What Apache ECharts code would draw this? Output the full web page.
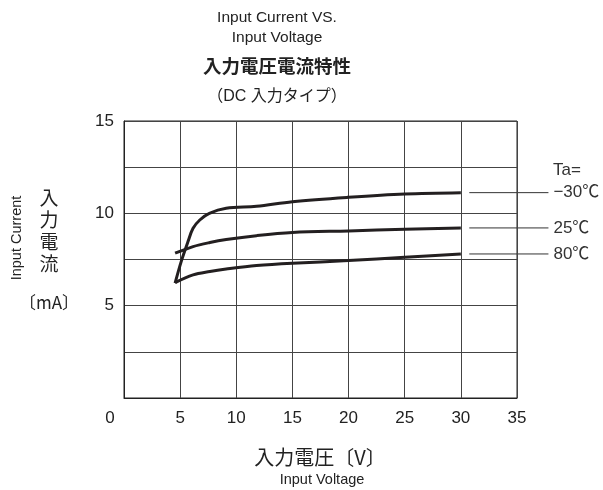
<!DOCTYPE html>
<html>
<head>
<meta charset="utf-8">
<script src="https://cdn.jsdelivr.net/npm/echarts@6/dist/echarts.min.js"></script>
<style>html,body{margin:0;padding:0;background:#fff}#c{width:603px;height:490px}</style>
</head>
<body>
<div id="c"></div>
<script>
var xTicks = [0, 5, 10, 15, 20, 25, 30, 35];
var yTicks = [5, 10, 15];
var seriesNames = ['−30℃', '25℃', '80℃'];
var xM30 = [4.55, 5.1, 5.7, 6.15, 6.75, 7.6, 9.1, 11.8, 15, 20, 25, 30];
var yM30 = [6.22, 7.4, 8.47, 9.19, 9.64, 10.0, 10.27, 10.38, 10.63, 10.87, 11.05, 11.12];
var x25 = [4.55, 6.15, 7.65, 9.1, 11.8, 15, 20, 25, 30];
var y25 = [7.84, 8.2, 8.42, 8.58, 8.79, 8.96, 9.05, 9.14, 9.21];
var x80 = [4.55, 6.15, 7.65, 9.1, 11.8, 15, 20, 25, 30];
var y80 = [6.25, 6.67, 6.85, 6.98, 7.17, 7.3, 7.44, 7.62, 7.8];

function pairs(xs, ys) { return xs.map(function (x, i) { return [x, ys[i]]; }); }

var FONT = '"Liberation Sans", "Noto Sans CJK JP", sans-serif';
var JP = '"Noto Sans CJK JP", "Liberation Sans", sans-serif';
var chart = echarts.init(document.getElementById('c'), null, {renderer: 'canvas'});

var lineStyle = {color: '#231f20', width: 3};
function mk(name, xs, ys) {
  return {
    name: name, type: 'line', data: pairs(xs, ys), smooth: 0.35,
    symbol: 'none', lineStyle: lineStyle, animation: false, clip: false
  };
}

chart.setOption({
  animation: false,
  grid: {left: 124, right: 86, top: 121, bottom: 92, show: true, borderColor: '#222', borderWidth: 1},
  xAxis: {
    type: 'value', min: 0, max: 35, interval: 5,
    axisLine: {show: true, lineStyle: {color: '#222', width: 1}},
    axisTick: {show: false},
    splitLine: {show: true, lineStyle: {color: '#444', width: 1}},
    axisLabel: {
      color: '#222', fontSize: 17, fontFamily: FONT, margin: 12,
      formatter: function (v) { return v === 0 ? '{z|0}' : (xTicks.indexOf(v) >= 0 ? String(v) : ''); },
      rich: {z: {fontSize: 17, fontFamily: FONT, color: '#222', padding: [0, 28, 0, 0]}}
    }
  },
  yAxis: {
    type: 'value', min: 0, max: 15, interval: 2.5,
    axisLine: {show: true, lineStyle: {color: '#222', width: 1}},
    axisTick: {show: false},
    splitLine: {show: true, lineStyle: {color: '#444', width: 1}},
    axisLabel: {
      color: '#222', fontSize: 17, fontFamily: FONT, margin: 10,
      formatter: function (v) { return yTicks.indexOf(v) >= 0 ? String(v) : ''; }
    }
  },
  series: [mk(seriesNames[0], xM30, yM30), mk(seriesNames[1], x25, y25), mk(seriesNames[2], x80, y80)],
  graphic: [
    {type: 'text', x: 277, y: 18, style: {text: 'Input Current VS.', fontSize: 15.5, fontFamily: FONT, fill: '#222', align: 'center', verticalAlign: 'middle'}},
    {type: 'text', x: 277, y: 38, style: {text: 'Input Voltage', fontSize: 15.5, fontFamily: FONT, fill: '#222', align: 'center', verticalAlign: 'middle'}},
    {type: 'text', x: 277, y: 66, style: {text: '入力電圧電流特性', fontSize: 18.5, fontWeight: 'bold', fontFamily: JP, fill: '#222', align: 'center', verticalAlign: 'middle'}},
    {type: 'text', x: 277, y: 97, style: {text: '（DC 入力タイプ）', fontSize: 16, fontFamily: FONT, fill: '#222', align: 'center', verticalAlign: 'middle'}},
    {type: 'text', x: 49, y: 187, style: {text: '入\n力\n電\n流', fontSize: 19, lineHeight: 22, fontFamily: JP, fill: '#222', align: 'center', verticalAlign: 'top'}},
    {type: 'text', x: 49, y: 303, style: {text: '〔mA〕', fontSize: 17, fontFamily: JP, fill: '#222', align: 'center', verticalAlign: 'middle'}},
    {type: 'text', x: 17, y: 238, rotation: Math.PI / 2, style: {text: 'Input Current', fontSize: 14.5, fontFamily: FONT, fill: '#222', align: 'center', verticalAlign: 'middle'}},
    {type: 'text', x: 320, y: 457, style: {text: '入力電圧〔V〕', fontSize: 20, fontFamily: JP, fill: '#222', align: 'center', verticalAlign: 'middle'}},
    {type: 'text', x: 322, y: 480, style: {text: 'Input Voltage', fontSize: 14.5, fontFamily: FONT, fill: '#222', align: 'center', verticalAlign: 'middle'}},
    {type: 'text', x: 553, y: 170, style: {text: 'Ta=', fontSize: 17, fontFamily: FONT, fill: '#333', align: 'left', verticalAlign: 'middle'}}
  ]
});

// leader lines & labels positioned from the data's last values
var ends = [yM30[yM30.length - 1], y25[y25.length - 1], y80[y80.length - 1]];
var extra = [];
ends.forEach(function (v, i) {
  var p1 = chart.convertToPixel({gridIndex: 0}, [30.75, v]);
  var p2 = chart.convertToPixel({gridIndex: 0}, [37.8, v]);
  extra.push({type: 'line', shape: {x1: p1[0], y1: p1[1], x2: p2[0], y2: p2[1]}, style: {stroke: '#333', lineWidth: 1}});
  extra.push({type: 'text', x: p2[0] + 5, y: p2[1], style: {text: seriesNames[i], fontSize: 17, fontFamily: FONT, fill: '#333', align: 'left', verticalAlign: 'middle'}});
});
var opt = chart.getOption();
chart.setOption({graphic: opt.graphic[0].elements.map(function(){return {};}).concat(extra)});
</script>
</body>
</html>
